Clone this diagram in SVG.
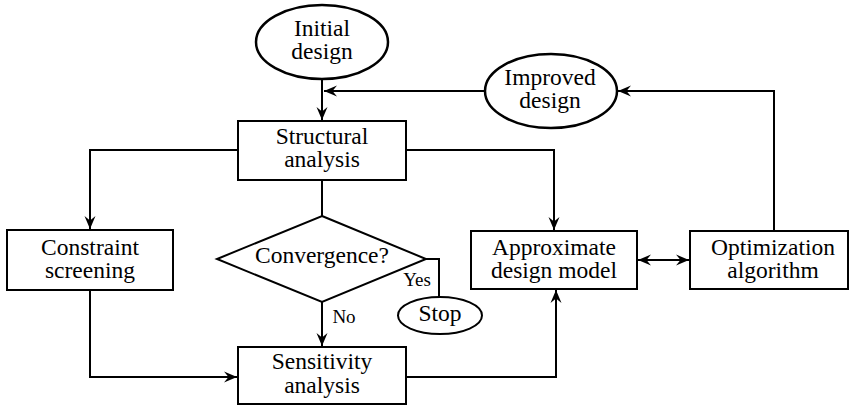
<svg xmlns="http://www.w3.org/2000/svg" width="850" height="406" viewBox="0 0 850 406">
  <style>
    .shape { fill: #fff; stroke: #000; stroke-width: 2; }
    .oval { fill: #fff; stroke: #000; stroke-width: 2.5; }
    .wire { fill: none; stroke: #000; stroke-width: 2; }
  </style>
  <defs>
    <marker id="arrow" viewBox="-13 -6 14 12" refX="0" refY="0" markerWidth="14" markerHeight="12" markerUnits="userSpaceOnUse" orient="auto-start-reverse">
      <path d="M0,0 L-13,-5.5 L-8.5,0 L-13,5.5 Z" fill="#000"/>
    </marker>
  </defs>

  <!-- connectors and their branch labels -->
  <g id="connectors">
    <line class="wire" x1="322" y1="80" x2="322" y2="120" marker-end="url(#arrow)"/>
    <line class="wire" x1="485" y1="91" x2="324" y2="91" marker-end="url(#arrow)"/>
    <polyline class="wire" points="774,231 774,91 618,91" marker-end="url(#arrow)"/>
    <polyline class="wire" points="238,150 90,150 90,229" marker-end="url(#arrow)"/>
    <polyline class="wire" points="406,150 554,150 554,230" marker-end="url(#arrow)"/>
    <line class="wire" x1="322" y1="180" x2="322" y2="216"/>
    <polyline class="wire" points="426,259 439,259 439,297"/>
    <line class="wire" x1="322" y1="302" x2="322" y2="346" marker-end="url(#arrow)"/>
    <polyline class="wire" points="90,290 90,377 237,377" marker-end="url(#arrow)"/>
    <polyline class="wire" points="406,377 556,377 556,290" marker-end="url(#arrow)"/>
    <line class="wire" x1="638" y1="260" x2="689" y2="260" marker-start="url(#arrow)" marker-end="url(#arrow)"/>
    <text x="417" y="286" font-family="Liberation Serif, serif" font-size="19" text-anchor="middle">Yes</text>
    <text x="344" y="323" font-family="Liberation Serif, serif" font-size="19" text-anchor="middle">No</text>
  </g>

  <g id="initial-design">
    <ellipse class="oval" cx="322" cy="42" rx="66" ry="37"/>
    <text x="322" y="36" font-family="Liberation Serif, serif" font-size="23.5" text-anchor="middle">Initial</text>
    <text x="322" y="59" font-family="Liberation Serif, serif" font-size="23.5" text-anchor="middle">design</text>
  </g>

  <g id="improved-design">
    <ellipse class="oval" cx="551" cy="91" rx="66" ry="37"/>
    <text x="550" y="85" font-family="Liberation Serif, serif" font-size="23.5" text-anchor="middle">Improved</text>
    <text x="550" y="108" font-family="Liberation Serif, serif" font-size="23.5" text-anchor="middle">design</text>
  </g>

  <g id="structural-analysis">
    <rect class="shape" x="238" y="121" width="168" height="59"/>
    <text x="322" y="144" font-family="Liberation Serif, serif" font-size="23.5" text-anchor="middle">Structural</text>
    <text x="322" y="167" font-family="Liberation Serif, serif" font-size="23.5" text-anchor="middle">analysis</text>
  </g>

  <g id="constraint-screening">
    <rect class="shape" x="7" y="230" width="166" height="60"/>
    <text x="90" y="255" font-family="Liberation Serif, serif" font-size="23.5" text-anchor="middle">Constraint</text>
    <text x="90" y="278" font-family="Liberation Serif, serif" font-size="23.5" text-anchor="middle">screening</text>
  </g>

  <g id="convergence">
    <polygon class="shape" points="322,216 426,259 322,302 217,259"/>
    <text x="322" y="263" font-family="Liberation Serif, serif" font-size="23.5" text-anchor="middle">Convergence?</text>
  </g>

  <g id="stop">
    <ellipse class="shape" cx="440" cy="315.5" rx="42" ry="18.5" stroke-width="1.5"/>
    <text x="440" y="321" font-family="Liberation Serif, serif" font-size="23.5" text-anchor="middle">Stop</text>
  </g>

  <g id="approximate-design-model">
    <rect class="shape" x="471" y="231" width="166" height="58"/>
    <text x="554" y="255" font-family="Liberation Serif, serif" font-size="23.5" text-anchor="middle">Approximate</text>
    <text x="554" y="278" font-family="Liberation Serif, serif" font-size="23.5" text-anchor="middle">design model</text>
  </g>

  <g id="optimization-algorithm">
    <rect class="shape" x="690" y="231" width="158" height="58"/>
    <text x="773" y="255" font-family="Liberation Serif, serif" font-size="23.5" text-anchor="middle">Optimization</text>
    <text x="773" y="278" font-family="Liberation Serif, serif" font-size="23.5" text-anchor="middle">algorithm</text>
  </g>

  <g id="sensitivity-analysis">
    <rect class="shape" x="238" y="347" width="168" height="57"/>
    <text x="322" y="369" font-family="Liberation Serif, serif" font-size="23.5" text-anchor="middle">Sensitivity</text>
    <text x="322" y="393" font-family="Liberation Serif, serif" font-size="23.5" text-anchor="middle">analysis</text>
  </g>
</svg>
